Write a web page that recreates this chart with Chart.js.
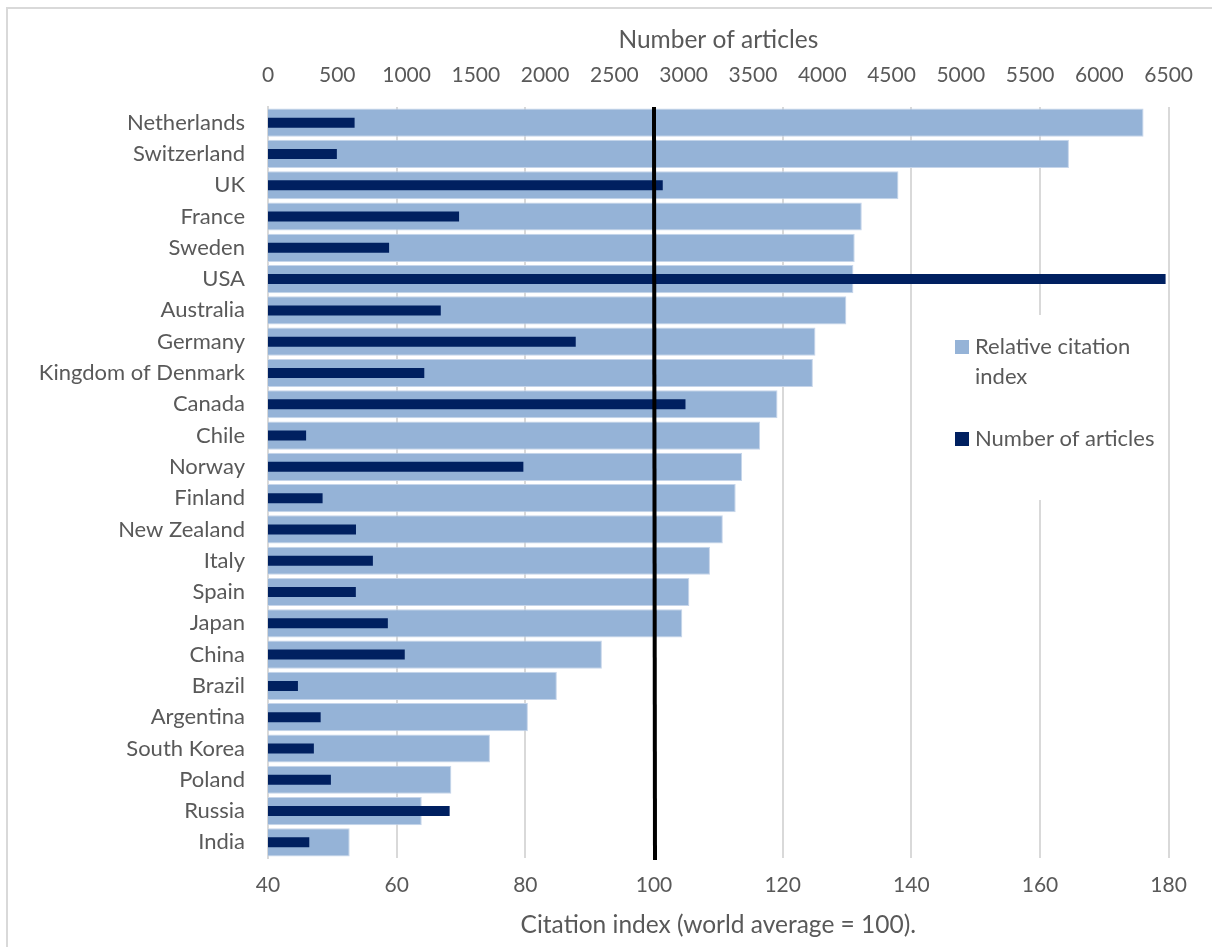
<!DOCTYPE html>
<html>
<head>
<meta charset="utf-8">
<script src="https://cdn.jsdelivr.net/npm/chart.js@4.4.0/dist/chart.umd.min.js"></script>
<style>
  body { margin: 0; background: #fff; }
  #frame { position: absolute; left: 6px; top: 7px; width: 1300px; height: 1000px;
           border-top: 2px solid #d9d9d9; border-left: 2px solid #d9d9d9; }
  #myChart { position: absolute; left: 0; top: 0; }
</style>
</head>
<body>
<div id="frame"></div>
<canvas id="myChart" width="1212" height="947"></canvas>
<script>
var countries = ['Netherlands', 'Switzerland', 'UK', 'France', 'Sweden', 'USA', 'Australia',
  'Germany', 'Kingdom of Denmark', 'Canada', 'Chile', 'Norway', 'Finland', 'New Zealand',
  'Italy', 'Spain', 'Japan', 'China', 'Brazil', 'Argentina', 'South Korea', 'Poland',
  'Russia', 'India'];

// Relative citation index (world average = 100)
var citationIndex = [176.1, 164.5, 138.0, 132.3, 131.2, 131.0, 129.9, 125.1, 124.7, 119.2,
  116.5, 113.7, 112.7, 110.7, 108.7, 105.5, 104.4, 91.9, 84.9, 80.4, 74.5, 68.5, 63.9, 52.7];

// Number of articles
var articles = [625, 497, 2849, 1379, 874, 6478, 1247, 2221, 1128, 3013, 275, 1843, 394, 635,
  757, 634, 865, 987, 216, 380, 331, 454, 1311, 298];

var worldAverage = 100;
var legendNames = ['Relative citation', 'index'];
var legendNames2 = ['Number of articles'];

var fontFamily = "Lato, 'Noto Sans', sans-serif";
var textColor = '#595959';
var lightBlue = '#95b3d7';
var darkBlue = '#002060';

// black line at the world average
var averageLine = {
  id: 'averageLine',
  afterDatasetsDraw: function (chart) {
    var ctx = chart.ctx;
    var x = chart.scales.x.getPixelForValue(worldAverage);
    ctx.save();
    ctx.strokeStyle = '#000';
    ctx.lineWidth = 4;
    ctx.beginPath();
    ctx.moveTo(x, chart.chartArea.top);
    ctx.lineTo(x + 1, chart.chartArea.bottom + 2);
    ctx.stroke();
    ctx.restore();
  }
};

// legend sits inside the plot, on a white patch
var boxLegend = {
  id: 'boxLegend',
  afterDraw: function (chart) {
    var ctx = chart.ctx;
    ctx.save();
    ctx.fillStyle = '#fff';
    ctx.fillRect(940, 315, 226, 185);
    ctx.font = '22px ' + fontFamily;
    ctx.textBaseline = 'middle';
    ctx.fillStyle = lightBlue;
    ctx.fillRect(955, 340, 14, 14);
    ctx.fillStyle = textColor;
    ctx.fillText(legendNames[0], 975, 347);
    ctx.fillText(legendNames[1], 975, 377);
    ctx.fillStyle = darkBlue;
    ctx.fillRect(955, 432, 14, 14);
    ctx.fillStyle = textColor;
    ctx.fillText(legendNames2[0], 975, 439);
    ctx.restore();
  }
};

var ctx = document.getElementById('myChart').getContext('2d');

var myChart = new Chart(ctx, {
  type: 'bar',
  data: {
    labels: countries,
    datasets: [{
      label: 'Number of articles',
      data: articles,
      xAxisID: 'x2',
      backgroundColor: darkBlue,
      barPercentage: 0.32,
      categoryPercentage: 1,
      grouped: false,
      order: 0
    }, {
      label: 'Relative citation index',
      data: citationIndex,
      xAxisID: 'x',
      backgroundColor: lightBlue,
      borderColor: '#c6d5ea',
      borderWidth: 1,
      barPercentage: 0.9,
      categoryPercentage: 1,
      grouped: false,
      order: 1
    }]
  },
  options: {
    indexAxis: 'y',
    responsive: false,
    animation: false,
    layout: { padding: { left: 0, right: 42, top: 0, bottom: 0 } },
    plugins: {
      legend: { display: false },
      tooltip: { enabled: false }
    },
    scales: {
      y: {
        afterFit: function (scale) { scale.width = 268; },
        grid: { display: false },
        border: { color: '#d9d9d9', width: 2 },
        ticks: {
          color: textColor,
          padding: 15,
          font: { family: fontFamily, size: 22 }
        }
      },
      x: {
        position: 'bottom',
        min: 40,
        max: 180,
        afterFit: function (scale) { scale.height = 89; },
        border: { display: false },
        grid: { color: '#d9d9d9', lineWidth: 2, drawTicks: false },
        ticks: {
          stepSize: 20,
          color: textColor,
          padding: 15,
          font: { family: fontFamily, size: 21 }
        },
        title: {
          display: true,
          text: 'Citation index (world average = 100).',
          color: textColor,
          padding: { top: 0, bottom: 7 },
          font: { family: fontFamily, size: 24.5 }
        }
      },
      x2: {
        position: 'top',
        min: 0,
        max: 6500,
        afterFit: function (scale) { scale.height = 107; },
        border: { display: false },
        grid: { display: false, drawTicks: false },
        ticks: {
          stepSize: 500,
          color: textColor,
          padding: 19,
          font: { family: fontFamily, size: 21 },
          callback: function (value) { return String(value); }
        },
        title: {
          display: true,
          text: 'Number of articles',
          color: textColor,
          padding: { top: 25, bottom: 0 },
          font: { family: fontFamily, size: 24.5 }
        }
      }
    }
  },
  plugins: [averageLine, boxLegend]
});
</script>
</body>
</html>
